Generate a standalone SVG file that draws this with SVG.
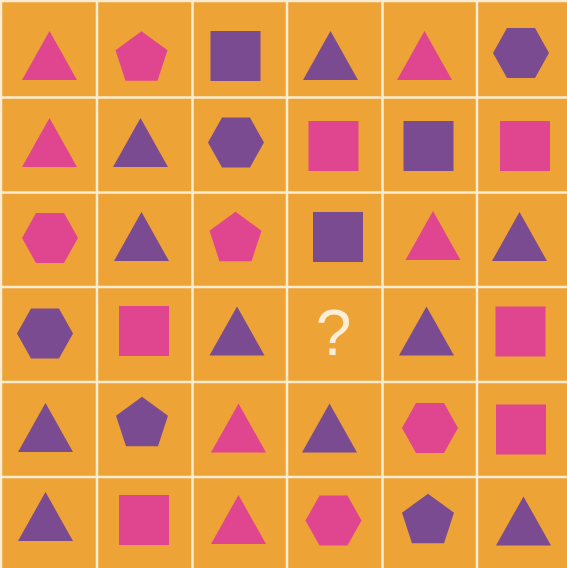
<svg xmlns="http://www.w3.org/2000/svg" xmlns:xlink="http://www.w3.org/1999/xlink" width="567" height="568" viewBox="0 0 567 568">
<style>
.pk{fill:#e0468f}
.pu{fill:#7a4b91}
.grid line{stroke:#fcecd2;stroke-width:2.5}
.q{font-family:"Liberation Sans","DejaVu Sans",sans-serif;font-size:64px;fill:#fdeed8;text-anchor:middle}
</style>
<defs>
<path id="tri" d="M0,-24.5 L27.5,24.5 L-27.5,24.5 Z"/>
<rect id="sq" x="-25" y="-25" width="50" height="50"/>
<path id="hex" d="M-28,0 L-14,-25 L14,-25 L28,0 L14,25 L-14,25 Z"/>
<path id="pent" d="M0,-24.7 L26,-5.8 L16,24.7 L-16,24.7 L-26,-5.8 Z"/>
</defs>
<rect x="0" y="0" width="567" height="568" fill="#eea336"/>
<g class="grid">
<line x1="1" y1="0" x2="1" y2="568"/>
<line x1="97" y1="0" x2="97" y2="568"/>
<line x1="192.5" y1="0" x2="192.5" y2="568"/>
<line x1="287" y1="0" x2="287" y2="568"/>
<line x1="382.5" y1="0" x2="382.5" y2="568"/>
<line x1="477" y1="0" x2="477" y2="568"/>
<line x1="0" y1="1" x2="567" y2="1"/>
<line x1="0" y1="97.5" x2="567" y2="97.5"/>
<line x1="0" y1="192.5" x2="567" y2="192.5"/>
<line x1="0" y1="287" x2="567" y2="287"/>
<line x1="0" y1="382" x2="567" y2="382"/>
<line x1="0" y1="477" x2="567" y2="477"/>
</g>
<g id="r1c1"><use href="#tri" class="pk" x="49.5" y="55.5"/></g>
<g id="r1c2"><use href="#pent" class="pk" x="141.5" y="56"/></g>
<g id="r1c3"><use href="#sq" class="pu" x="235.5" y="56"/></g>
<g id="r1c4"><use href="#tri" class="pu" x="330.5" y="55.5"/></g>
<g id="r1c5"><use href="#tri" class="pk" x="424.5" y="55.5"/></g>
<g id="r1c6"><use href="#hex" class="pu" x="521" y="53"/></g>

<g id="r2c1"><use href="#tri" class="pk" x="49.5" y="142.5"/></g>
<g id="r2c2"><use href="#tri" class="pu" x="140.5" y="142.5"/></g>
<g id="r2c3"><use href="#hex" class="pu" x="236" y="142.5"/></g>
<g id="r2c4"><use href="#sq" class="pk" x="333.5" y="146"/></g>
<g id="r2c5"><use href="#sq" class="pu" x="428.5" y="146"/></g>
<g id="r2c6"><use href="#sq" class="pk" x="525" y="146"/></g>

<g id="r3c1"><use href="#hex" class="pk" x="50" y="238"/></g>
<g id="r3c2"><use href="#tri" class="pu" x="141.5" y="236.5"/></g>
<g id="r3c3"><use href="#pent" class="pk" x="235.5" y="236.5"/></g>
<g id="r3c4"><use href="#sq" class="pu" x="338" y="237"/></g>
<g id="r3c5"><use href="#tri" class="pk" x="433" y="235.5"/></g>
<g id="r3c6"><use href="#tri" class="pu" x="519.5" y="236.5"/></g>

<g id="r4c1"><use href="#hex" class="pu" x="45" y="333.5"/></g>
<g id="r4c2"><use href="#sq" class="pk" x="144" y="331"/></g>
<g id="r4c3"><use href="#tri" class="pu" x="237" y="331"/></g>
<g id="r4c4"><text class="q" x="333.5" y="355">?</text></g>
<g id="r4c5"><use href="#tri" class="pu" x="426.5" y="331"/></g>
<g id="r4c6"><use href="#sq" class="pk" x="520.5" y="331.5"/></g>

<g id="r5c1"><use href="#tri" class="pu" x="45.5" y="427.5"/></g>
<g id="r5c2"><use href="#pent" class="pu" x="142" y="421.5"/></g>
<g id="r5c3"><use href="#tri" class="pk" x="238.5" y="428"/></g>
<g id="r5c4"><use href="#tri" class="pu" x="329.5" y="428"/></g>
<g id="r5c5"><use href="#hex" class="pk" x="430" y="428"/></g>
<g id="r5c6"><use href="#sq" class="pk" x="521" y="429.5"/></g>

<g id="r6c1"><use href="#tri" class="pu" x="45.5" y="516.5"/></g>
<g id="r6c2"><use href="#sq" class="pk" x="144" y="520"/></g>
<g id="r6c3"><use href="#tri" class="pk" x="238.5" y="519.5"/></g>
<g id="r6c4"><use href="#hex" class="pk" x="333.5" y="520.5"/></g>
<g id="r6c5"><use href="#pent" class="pu" x="428" y="518.5"/></g>
<g id="r6c6"><use href="#tri" class="pu" x="523.5" y="521"/></g>
</svg>
